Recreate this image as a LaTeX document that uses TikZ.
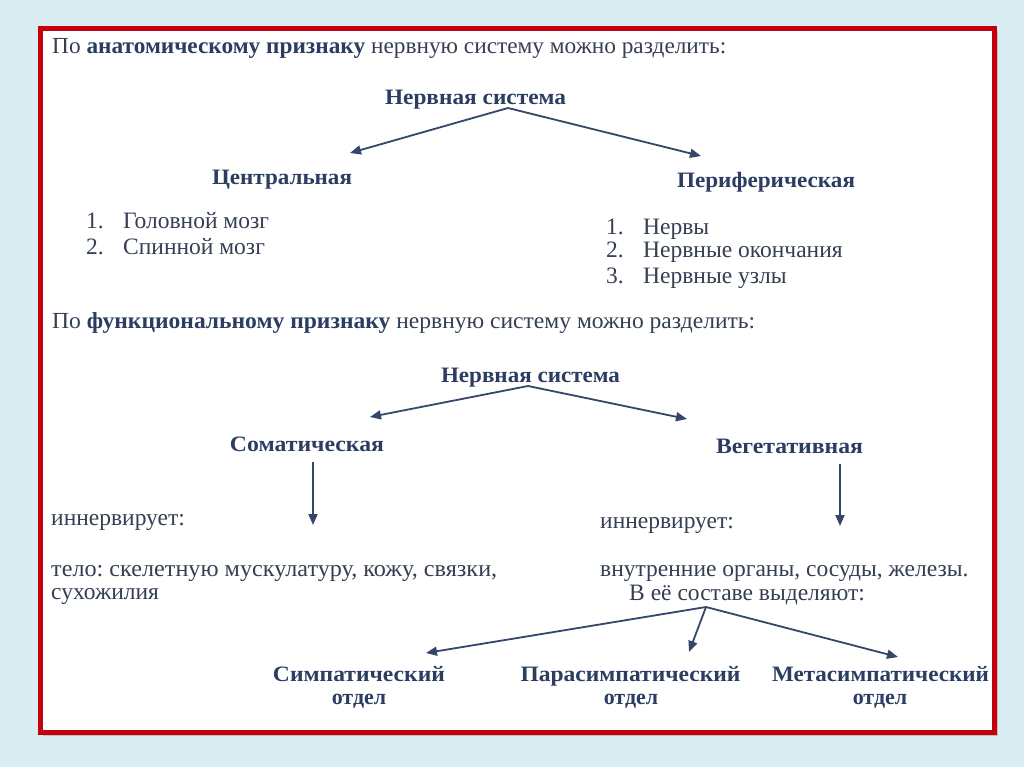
\documentclass[tikz,border=0pt]{standalone}
\usepackage{fontspec}
\setmainfont{Liberation Serif}
\usetikzlibrary{arrows.meta}
\frenchspacing
\definecolor{bgblue}{HTML}{DAEDF3}
\definecolor{framered}{HTML}{C3000B}
\definecolor{ink}{HTML}{353F52}
\definecolor{head}{HTML}{2B3E62}
\definecolor{arr}{HTML}{34476A}
\newcommand\fw[2]{\resizebox{#1pt}{\height}{#2}}
\begin{document}
\begin{tikzpicture}[x=1pt,y=-1pt,
  txt/.style={inner sep=0pt, text=ink, font=\fontsize{23.5}{28}\selectfont},
  ttl/.style={inner sep=0pt, text=ink, font=\fontsize{23}{27}\selectfont},
  hd/.style={inner sep=0pt, text=head, font=\fontsize{22}{26}\selectfont\bfseries},
  arrow/.style={draw=arr, line width=1.8pt, -{Triangle[length=11pt,width=9pt]}}]
\useasboundingbox (0,0) rectangle (1024,767);
\fill[bgblue] (0,0) rectangle (1024,767);
\fill[black!25] (43,31) rectangle (997.5,736);
\filldraw[fill=white, draw=framered, line width=5pt] (40.5,28.5) rectangle (994.5,732.5);

% --- anatomical
\node[ttl, anchor=base west] (t1) at (52,54) {\fw{674}{По \textbf{\color{head}анатомическому признаку} нервную систему можно разделить:}};
\node[hd, anchor=base] (ns1) at (475.5,105) {\fw{181}{Нервная система}};
\node[hd, anchor=base] (cen) at (282,185) {\fw{140}{Центральная}};
\node[hd, anchor=base] (per) at (766,188) {\fw{178}{Периферическая}};
\coordinate (ap1) at (508,108);
\coordinate (tc) at (350,153);
\coordinate (tp) at (701,156);
\draw[arrow] (ap1) -- (tc);
\draw[arrow] (ap1) -- (tp);

\node[txt, anchor=base west] (l1) at (86,229) {\makebox[37pt][l]{1.}Головной мозг};
\node[txt, anchor=base west] (l2) at (86,254) {\makebox[37pt][l]{2.}Спинной мозг};
\node[txt, anchor=base west] (r1) at (606,234) {\makebox[37pt][l]{1.}Нервы};
\node[txt, anchor=base west] (r2) at (606,258) {\makebox[37pt][l]{2.}Нервные окончания};
\node[txt, anchor=base west] (r3) at (606,283) {\makebox[37pt][l]{3.}Нервные узлы};

% --- functional
\node[ttl, anchor=base west] (t2) at (52,328) {\fw{703}{По \textbf{\color{head}функциональному признаку} нервную систему можно разделить:}};
\node[hd, anchor=base] (ns2) at (530.5,382) {\fw{179}{Нервная система}};
\node[hd, anchor=base] (som) at (307,451) {\fw{154}{Соматическая}};
\node[hd, anchor=base] (veg) at (789.5,453) {\fw{147}{Вегетативная}};
\coordinate (ap2) at (528,386);
\coordinate (ts) at (370,417);
\coordinate (tv) at (687,419);
\draw[arrow] (ap2) -- (ts);
\draw[arrow] (ap2) -- (tv);

\coordinate (sa) at (313,462);
\coordinate (sb) at (313,525);
\coordinate (va) at (840,464);
\coordinate (vb) at (840,526);
\draw[arrow] (sa) -- (sb);
\draw[arrow] (va) -- (vb);

\node[txt, anchor=base west] (innl) at (51,525) {иннервирует:};
\node[txt, anchor=base west] (innr) at (600,528) {иннервирует:};
\node[txt, anchor=base west] (telo) at (51,576) {\fw{446}{тело: скелетную мускулатуру, кожу, связки,}};
\node[txt, anchor=base west] (sukh) at (51,599) {сухожилия};
\node[txt, anchor=base west] (vnut) at (600,576) {внутренние органы, сосуды, железы.};
\node[txt, anchor=base west] (sost) at (629,600) {В её составе выделяют:};

\coordinate (ap3) at (706,607);
\coordinate (tsy) at (426,653);
\coordinate (tpa) at (689,652);
\coordinate (tme) at (898,657);
\draw[arrow] (ap3) -- (tsy);
\draw[arrow] (ap3) -- (tpa);
\draw[arrow] (ap3) -- (tme);

\node[hd, anchor=base] (sym) at (359,681) {\fw{172}{Симпатический}};
\node[hd, anchor=base] (symo) at (359,704) {отдел};
\node[hd, anchor=base] (par) at (630.5,681) {\fw{220}{Парасимпатический}};
\node[hd, anchor=base] (paro) at (631,704) {отдел};
\node[hd, anchor=base] (met) at (880.5,681) {\fw{217}{Метасимпатический}};
\node[hd, anchor=base] (meto) at (880,704) {отдел};
\end{tikzpicture}
\end{document}
